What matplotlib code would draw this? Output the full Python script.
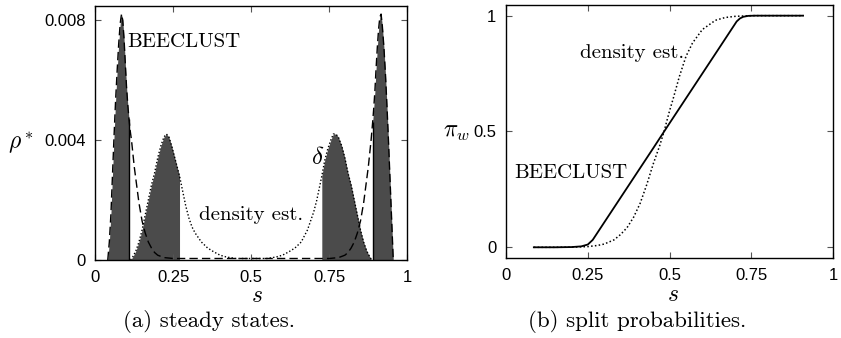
import numpy as np
import matplotlib
matplotlib.use("Agg")
import matplotlib.pyplot as plt

# (a) steady states: BEECLUST density rho*(s)
bee_s = [0.040, 0.045, 0.050, 0.055, 0.060, 0.065, 0.070, 0.075, 0.080, 0.084,
         0.088, 0.092, 0.096, 0.100, 0.104, 0.108, 0.112, 0.116, 0.120, 0.125,
         0.130, 0.140, 0.150, 0.160, 0.170, 0.180, 0.190, 0.200, 0.220, 0.250,
         0.300, 0.400, 0.500, 0.600, 0.700, 0.750, 0.780, 0.800, 0.810, 0.820,
         0.830, 0.840, 0.850, 0.860, 0.870, 0.875, 0.880, 0.884, 0.889, 0.892,
         0.896, 0.900, 0.904, 0.908, 0.912, 0.916, 0.920, 0.925, 0.930, 0.935,
         0.940, 0.945, 0.950, 0.955]
bee_rho = [0.0000, 0.0006, 0.0015, 0.0028, 0.0041, 0.0053, 0.0063, 0.0072, 0.0079, 0.0082,
           0.0080, 0.0074, 0.0066, 0.0058, 0.0052, 0.0047, 0.0043, 0.0040, 0.0036, 0.0031,
           0.0027, 0.0019, 0.0013, 0.0009, 0.0006, 0.0004, 0.00025, 0.00016, 0.00008, 0.00005,
           0.00005, 0.00005, 0.00005, 0.00005, 0.00005, 0.00005, 0.00008, 0.00016, 0.00025, 0.0004,
           0.0006, 0.0009, 0.0013, 0.0019, 0.0027, 0.0031, 0.0036, 0.0040, 0.0046, 0.0050,
           0.0056, 0.0064, 0.0071, 0.0077, 0.0081, 0.0082, 0.0078, 0.0071, 0.0062, 0.0051,
           0.0039, 0.0026, 0.0013, 0.0000]

# (a) steady states: density estimate
dens_s = [0.113, 0.120, 0.130, 0.140, 0.150, 0.160, 0.170, 0.180, 0.190, 0.200,
          0.210, 0.220, 0.228, 0.236, 0.245, 0.255, 0.265, 0.270, 0.280, 0.290,
          0.300, 0.310, 0.320, 0.340, 0.360, 0.380, 0.400, 0.420, 0.450, 0.500,
          0.550, 0.580, 0.600, 0.620, 0.640, 0.660, 0.680, 0.690, 0.700, 0.710,
          0.720, 0.726, 0.735, 0.745, 0.755, 0.763, 0.771, 0.779, 0.790, 0.800,
          0.810, 0.820, 0.830, 0.840, 0.850, 0.860, 0.870, 0.880, 0.886]
dens_rho = [0.0000, 0.0001, 0.0003, 0.0006, 0.0010, 0.0015, 0.0020, 0.0025, 0.0029, 0.0034,
            0.0038, 0.0041, 0.0042, 0.0041, 0.0038, 0.0034, 0.0030, 0.0028, 0.0023, 0.0018,
            0.0014, 0.0011, 0.0009, 0.0006, 0.0004, 0.00027, 0.00016, 0.0001, 0.00005, 0.00005,
            0.00005, 0.0001, 0.00016, 0.00027, 0.0004, 0.0006, 0.0010, 0.0013, 0.0016, 0.0020,
            0.0025, 0.0028, 0.0033, 0.0037, 0.0040, 0.0042, 0.0042, 0.0041, 0.0038, 0.0034,
            0.0029, 0.0025, 0.0020, 0.0015, 0.0010, 0.0006, 0.0003, 0.0001, 0.0000]

# shaded parts (s ranges)
bee_fill = [(0.040, 0.108), (0.889, 0.955)]
dens_fill = [(0.113, 0.270), (0.726, 0.886)]

# (b) split probabilities pi_w(s)
pi_bee_s = [0.085, 0.15, 0.20, 0.23, 0.25, 0.265, 0.30, 0.35, 0.40, 0.45, 0.50,
            0.55, 0.60, 0.65, 0.705, 0.715, 0.725, 0.74, 0.76, 0.80, 0.85, 0.908]
pi_bee = [0.0, 0.0, 0.001, 0.004, 0.012, 0.032, 0.107, 0.214, 0.321, 0.428, 0.536,
          0.643, 0.75, 0.857, 0.975, 0.988, 0.995, 0.999, 1.0, 1.0, 1.0, 1.0]
pi_dens_s = [0.085, 0.15, 0.20, 0.25, 0.28, 0.30, 0.33, 0.35, 0.37, 0.39, 0.41,
             0.43, 0.45, 0.47, 0.483, 0.50, 0.51, 0.53, 0.55, 0.57, 0.60, 0.64,
             0.67, 0.70, 0.75, 0.80, 0.85, 0.908]
pi_dens = [0.0, 0.0, 0.0005, 0.003, 0.008, 0.014, 0.032, 0.055, 0.085, 0.13, 0.19,
           0.27, 0.36, 0.44, 0.50, 0.59, 0.637, 0.738, 0.824, 0.882, 0.94, 0.98,
           0.992, 0.997, 1.0, 1.0, 1.0, 1.0]

s_ticks = [0, 0.25, 0.5, 0.75, 1]
s_ticklabels = ["0", "0.25", "0.5", "0.75", "1"]
rho_ticks = [0, 0.004, 0.008]
rho_ticklabels = ["0", "0.004", "0.008"]
pi_ticks = [0, 0.5, 1]
pi_ticklabels = ["0", "0.5", "1"]

plt.rcParams['mathtext.fontset'] = 'cm'
plt.rcParams['font.family'] = 'Liberation Sans'
SERIF = 'cmr10'
FILL = '#4b4b4b'

fig = plt.figure(figsize=(8.41, 3.38), dpi=100)
ax1 = fig.add_axes([0.1133, 0.2308, 0.3710, 0.7515])
ax2 = fig.add_axes([0.6017, 0.2358, 0.3890, 0.7494])

# --- panel (a)
bs = np.array(bee_s)
br = np.array(bee_rho)
ds = np.array(dens_s)
dr = np.array(dens_rho)
for lo, hi in dens_fill:
    m = (ds >= lo - 1e-9) & (ds <= hi + 1e-9)
    ax1.fill_between(ds[m], 0, dr[m], color=FILL, lw=0, zorder=1)
for lo, hi in bee_fill:
    m = (bs >= lo - 1e-9) & (bs <= hi + 1e-9)
    ax1.fill_between(bs[m], 0, br[m], color=FILL, lw=0, zorder=1)
# black edges where the BEECLUST peaks are cut
ax1.vlines([bee_fill[0][1], bee_fill[1][0]], 0,
           [br[bee_s.index(bee_fill[0][1])], br[bee_s.index(bee_fill[1][0])]],
           color='black', lw=1.0, zorder=2)
ax1.plot(bs, br, color='black', lw=1.0, dashes=(6, 3), zorder=3)
ax1.plot(ds, dr, color='black', lw=1.0, dashes=(1, 1.5), zorder=3)

ax1.set_xlim(0, 1)
ax1.set_ylim(0, 0.00847)
ax1.set_xticks(s_ticks)
ax1.set_xticklabels(s_ticklabels)
ax1.set_yticks(rho_ticks)
ax1.set_yticklabels(rho_ticklabels)

ax1.text(0.103, 0.00727, "BEECLUST", family=SERIF, fontsize=15, ha='left', va='center')
ax1.text(0.331, 0.0015, "density est.", family=SERIF, fontsize=15, ha='left', va='center')
ax1.text(0.714, 0.00343, r"$\delta$", fontsize=18, ha='center', va='center')
ax1.text(-0.237, 0.459, r"$\rho^*$", fontsize=17, ha='center', va='center',
         transform=ax1.transAxes)
ax1.text(0.519, -0.14, r"$s$", fontsize=17, ha='center', va='center',
         transform=ax1.transAxes)

# --- panel (b)
ax2.plot(pi_bee_s, pi_bee, color='black', lw=1.3, zorder=3)
ax2.plot(pi_dens_s, pi_dens, color='black', lw=1.1, dashes=(1, 1.5), zorder=3)
ax2.set_xlim(0, 1)
ax2.set_ylim(-0.0475, 1.046)
ax2.set_xticks(s_ticks)
ax2.set_xticklabels(s_ticklabels)
ax2.set_yticks(pi_ticks)
ax2.set_yticklabels(pi_ticklabels)

ax2.text(0.225, 0.839, "density est.", family=SERIF, fontsize=15, ha='left', va='center')
ax2.text(0.025, 0.321, "BEECLUST", family=SERIF, fontsize=15, ha='left', va='center')
ax2.text(-0.152, 0.499, r"$\pi_w$", fontsize=17, ha='center', va='center',
         transform=ax2.transAxes)
ax2.text(0.509, -0.145, r"$s$", fontsize=17, ha='center', va='center',
         transform=ax2.transAxes)

for ax in (ax1, ax2):
    ax.tick_params(direction='in', top=True, right=True, length=4, width=0.8,
                   color='#555555', labelsize=12, pad=7)
    for sp in ax.spines.values():
        sp.set_linewidth(1.0)

fig.text(0.2485, 0.05, "(a) steady states.", family=SERIF, fontsize=16.5,
         ha='center', va='center')
fig.text(0.757, 0.05, "(b) split probabilities.", family=SERIF, fontsize=16.5,
         ha='center', va='center')

fig.savefig("out.png", dpi=100)
print("saved: out.png")
